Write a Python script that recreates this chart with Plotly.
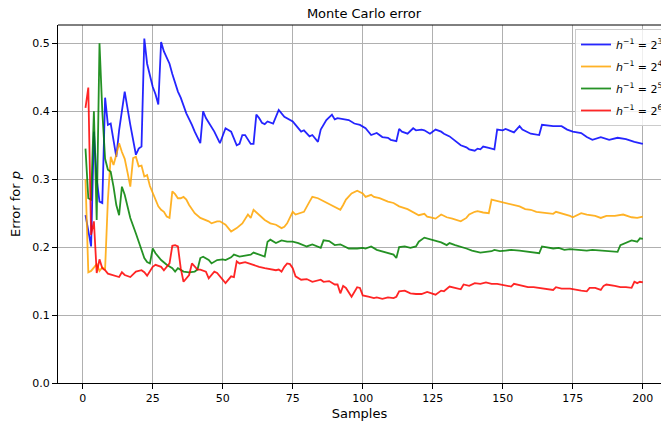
import plotly.graph_objects as go

# ---- data ----
blue_x = [1,2,3,4,5,6,7,8,9,10,11,12,13,15,17,19,20,21,22,23,25,26,27,28,29,30,31,32,33,34,35,37,39,40,42,43,44,46,47,49,51,53,55,56,57,58,60,61,62,63,64,65,66,68,70,72,73,75,76,78,79,81,82,84,85,87,89,90,91,93,95,97,99,101,103,105,107,109,110,112,113,114,116,118,119,121,122,124,126,128,129,131,133,135,137,138,140,141,142,143,145,147,148,150,151,153,154,156,157,160,163,164,166,168,171,173,175,178,180,182,185,188,191,194,197,200]
blue_y = [.247,.225,.201,.37,.30,.267,.265,.42,.38,.382,.36,.333,.372,.429,.38,.336,.345,.348,.507,.47,.436,.425,.41,.502,.488,.48,.47,.455,.44,.429,.42,.397,.38,.37,.353,.4,.39,.377,.37,.353,.375,.37,.35,.352,.365,.365,.352,.352,.395,.39,.383,.381,.385,.382,.402,.392,.39,.385,.38,.37,.372,.363,.365,.355,.373,.387,.395,.388,.39,.389,.387,.382,.38,.375,.365,.368,.362,.361,.358,.356,.374,.37,.367,.375,.372,.373,.372,.367,.373,.37,.367,.363,.356,.35,.347,.344,.342,.345,.344,.348,.346,.344,.373,.372,.374,.37,.369,.378,.373,.367,.365,.38,.379,.378,.378,.373,.37,.368,.362,.358,.362,.358,.361,.359,.355,.352]

orange_x = [1,2,3,4,5,6,7,8,9,10,11,12,13,14,15,16,17,18,19,20,21,22,23,24,25,26,27,28,29,30,31,32,33,34,35,36,37,38,40,42,45,46,48,49,51,52,53,55,57,59,60,61,63,65,67,69,71,72,73,75,76,78,79,81,82,84,85,87,90,92,93,94,96,98,100,101,103,104,106,109,111,113,116,118,120,122,123,125,126,128,130,132,135,137,138,140,141,143,145,146,148,150,151,154,156,158,160,162,165,168,169,172,174,175,178,180,183,185,187,190,193,196,198,200]
orange_y = [.3,.163,.165,.17,.175,.165,.17,.168,.27,.333,.321,.336,.353,.34,.33,.31,.289,.331,.333,.319,.32,.304,.306,.29,.279,.27,.26,.255,.252,.245,.243,.282,.278,.272,.272,.274,.27,.262,.25,.243,.238,.235,.238,.238,.233,.228,.223,.228,.235,.248,.243,.255,.248,.24,.235,.233,.228,.23,.235,.252,.248,.25,.252,.267,.274,.272,.27,.265,.26,.255,.262,.27,.279,.283,.279,.274,.277,.274,.272,.267,.265,.26,.256,.252,.247,.249,.245,.243,.242,.248,.244,.242,.238,.243,.248,.252,.253,.251,.25,.27,.268,.266,.264,.262,.26,.256,.255,.252,.25,.249,.252,.249,.246,.244,.25,.248,.246,.243,.246,.246,.248,.244,.243,.245]

green_x = [1,2,3,4,5,6,7,8,9,10,11,12,13,14,15,16,17,19,21,22,23,24,25,26,28,30,32,33,34,36,38,40,41,42,43,45,46,48,50,51,53,54,56,58,60,61,63,65,66,67,69,71,73,75,77,80,82,83,85,86,88,90,92,93,95,98,100,101,103,105,107,110,111,112,113,115,117,119,120,122,124,126,128,130,131,133,135,137,139,142,144,146,147,149,151,153,156,158,160,163,164,166,168,170,172,174,176,178,180,182,185,187,190,191,192,194,196,198,199,200]
green_y = [.345,.272,.27,.4,.24,.5,.4,.33,.314,.311,.289,.262,.247,.289,.277,.26,.243,.22,.198,.184,.178,.176,.198,.191,.181,.174,.169,.164,.169,.164,.163,.164,.167,.184,.186,.181,.176,.181,.182,.181,.185,.189,.186,.187,.189,.192,.189,.186,.208,.211,.206,.21,.208,.208,.206,.201,.204,.202,.199,.21,.209,.203,.204,.202,.198,.198,.199,.198,.201,.196,.194,.191,.189,.184,.2,.201,.199,.201,.208,.214,.212,.21,.207,.203,.206,.203,.201,.198,.195,.192,.193,.194,.196,.194,.195,.196,.195,.194,.193,.191,.201,.2,.198,.199,.196,.197,.196,.196,.195,.196,.195,.195,.194,.193,.203,.207,.21,.208,.213,.212]

red_x = [1,2,3,4,5,6,7,8,9,11,13,14,15,17,19,21,22,23,25,26,28,29,31,32,33,34,35,36,38,39,41,42,44,45,47,48,50,51,53,54,55,56,58,60,61,63,65,67,69,70,71,72,73,74,75,76,78,80,82,85,86,88,90,91,92,93,94,96,98,99,100,102,104,105,107,109,111,112,113,115,117,119,121,123,125,126,128,129,131,133,135,136,138,140,142,144,146,148,151,153,154,157,159,161,163,166,168,169,171,174,176,178,180,181,183,185,186,187,190,192,194,196,197,198,199,200]
red_y = [.405,.435,.218,.238,.162,.182,.169,.166,.161,.159,.156,.163,.159,.156,.164,.166,.163,.158,.171,.174,.171,.166,.176,.202,.203,.201,.169,.149,.159,.176,.167,.167,.164,.154,.164,.162,.152,.147,.157,.156,.179,.176,.178,.175,.174,.171,.169,.167,.166,.167,.164,.171,.176,.175,.169,.157,.152,.153,.149,.152,.149,.15,.145,.145,.132,.143,.14,.127,.141,.14,.129,.127,.125,.126,.124,.126,.125,.127,.135,.136,.132,.131,.131,.134,.132,.13,.136,.135,.142,.14,.138,.145,.143,.147,.146,.148,.146,.146,.143,.142,.146,.143,.141,.141,.14,.138,.137,.141,.139,.139,.137,.136,.135,.14,.14,.137,.143,.145,.143,.141,.141,.14,.149,.147,.149,.148]

series = [
    (blue_x, blue_y, "<i>h</i><sup>−1</sup> = 2<sup>3</sup>", "#0000ff"),
    (orange_x, orange_y, "<i>h</i><sup>−1</sup> = 2<sup>4</sup>", "#ffa500"),
    (green_x, green_y, "<i>h</i><sup>−1</sup> = 2<sup>5</sup>", "#008000"),
    (red_x, red_y, "<i>h</i><sup>−1</sup> = 2<sup>6</sup>", "#ff0000"),
]

x_ticks = [0, 25, 50, 75, 100, 125, 150, 175, 200]
y_ticks = [0.0, 0.1, 0.2, 0.3, 0.4, 0.5]

W, H = 661, 422
L, T, B = 58, 25, 39

fig = go.Figure()
for i, (xs, ys, name, col) in enumerate(series):
    fig.add_trace(go.Scatter(x=xs, y=ys, mode="lines", name=name, legendgroup=f"g{i}",
                             line=dict(color=col, width=1.8), opacity=0.85))

font = dict(family="DejaVu Sans, sans-serif", size=11, color="#000000")
plot_w = W - L
fig.update_layout(
    width=W, height=H,
    margin=dict(l=L, r=0, t=T, b=B, autoexpand=False),
    paper_bgcolor="white", plot_bgcolor="white",
    font=font,
    title=dict(text="Monte Carlo error", x=(L + 670) / 2 / W, xanchor="center",
               y=1 - 13 / H, yanchor="middle",
               font=dict(size=13, family="DejaVu Sans, sans-serif")),
    showlegend=True,
    legend=dict(x=(575 - L) / plot_w, y=1 - 4 / (H - T - B), xanchor="left", yanchor="top",
                bgcolor="rgba(255,255,255,0.8)", bordercolor="#cccccc", borderwidth=1,
                itemwidth=30, tracegroupgap=3,
                font=dict(size=11, family="DejaVu Sans, sans-serif")),
)
fig.update_xaxes(range=[-8.82, 206.5], tickvals=x_ticks, ticktext=[str(v) for v in x_ticks],
                 showgrid=True, gridcolor="#b0b0b0", gridwidth=0.8, zeroline=False,
                 showline=True, linecolor="black", linewidth=1,
                 ticks="outside", ticklen=5, tickcolor="black", automargin=False,
                 title=dict(text="Samples", standoff=4))
fig.update_yaxes(range=[0, 0.527], tickvals=y_ticks, ticktext=[f"{v:.1f}" for v in y_ticks],
                 showgrid=True, gridcolor="#b0b0b0", gridwidth=0.8, zeroline=False,
                 showline=True, linecolor="black", linewidth=1,
                 ticks="outside", ticklen=5, tickcolor="black", automargin=False,
                 title=dict(text="Error for <i>p</i>", standoff=8))
fig.add_shape(type="line", xref="paper", yref="paper", x0=0, x1=1, y0=1, y1=1,
              line=dict(color="black", width=1))

# remove the browser's default 8px body margin so the figure fills the window
fig.write_html("out.html", config={"displayModeBar": False},
               post_script="document.body.style.margin='0px';")
